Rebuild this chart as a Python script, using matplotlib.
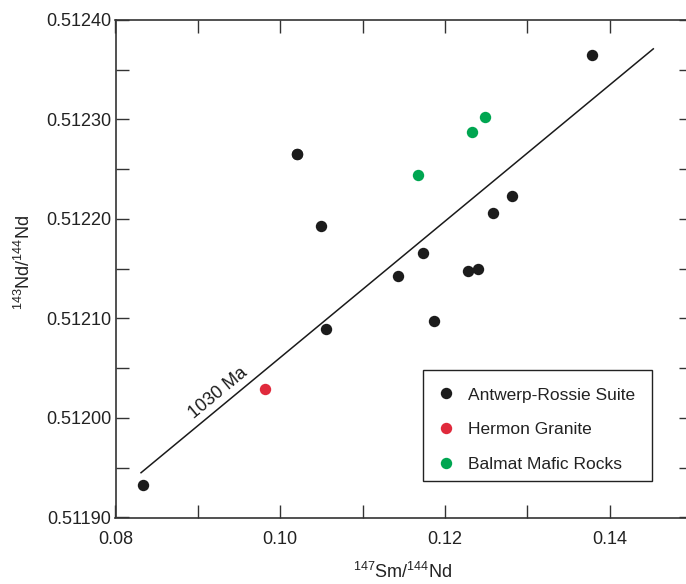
import matplotlib
matplotlib.use("Agg")
import matplotlib.pyplot as plt
from matplotlib.ticker import MultipleLocator, FormatStrFormatter
from matplotlib.lines import Line2D
from matplotlib.patches import Rectangle

plt.rcParams['font.family'] = ['Liberation Sans', 'DejaVu Sans']
plt.rcParams['mathtext.fontset'] = 'custom'
plt.rcParams['mathtext.rm'] = 'Liberation Sans'
plt.rcParams['mathtext.it'] = 'Liberation Sans'

# Data
ar_x = [0.0833, 0.1020, 0.1020, 0.1050, 0.1055, 0.1143, 0.1173, 0.1187,
        0.1228, 0.1240, 0.1258, 0.1281, 0.1378]
ar_y = [0.511933, 0.512265, 0.512265, 0.512193, 0.512089, 0.512143, 0.512166,
        0.512097, 0.512148, 0.512150, 0.512206, 0.512223, 0.512365]
hg_x = [0.0981]
hg_y = [0.512029]
bm_x = [0.1167, 0.1233, 0.1249]
bm_y = [0.512244, 0.512287, 0.512303]
iso_x = [0.0831, 0.1453]
iso_y = [0.511945, 0.512371]
iso_label = "1030 Ma"
series_names = ["Antwerp-Rossie Suite", "Hermon Granite", "Balmat Mafic Rocks"]
colors = ["#1c1c1c", "#e02a3c", "#00a651"]

W, H = 686, 584
fig = plt.figure(figsize=(W / 100, H / 100), dpi=100)
ax = fig.add_axes([115.5 / W, (H - 517.5) / H, (692 - 115.5) / W, (517.5 - 20) / H])

ax.plot(iso_x, iso_y, color="#1a1a1a", lw=1.1, zorder=2)
ms = 8.2
ax.plot(ar_x, ar_y, 'o', color=colors[0], ms=ms, mec='none', zorder=3)
ax.plot(hg_x, hg_y, 'o', color=colors[1], ms=ms, mec='none', zorder=3)
ax.plot(bm_x, bm_y, 'o', color=colors[2], ms=ms, mec='none', zorder=3)

ax.text(0.09244, 0.512025, iso_label, rotation=39.6, rotation_mode='anchor',
        ha='center', va='center', fontsize=13, color="#1a1a1a")

ax.set_xlim(0.08, 0.15)
ax.set_ylim(0.51190, 0.51240)
ax.xaxis.set_major_locator(MultipleLocator(0.02))
ax.xaxis.set_minor_locator(MultipleLocator(0.01))
ax.yaxis.set_major_locator(MultipleLocator(0.0001))
ax.yaxis.set_minor_locator(MultipleLocator(0.00005))
ax.xaxis.set_major_formatter(FormatStrFormatter('%.2f'))
ax.yaxis.set_major_formatter(FormatStrFormatter('%.5f'))

ax.tick_params(which='both', direction='in', top=True, right=True,
               length=9.5, width=1.0, color="#333333", labelsize=13,
               labelcolor="#222222")
ax.tick_params(axis='x', pad=10)
ax.tick_params(axis='y', pad=3)
for s in ax.spines.values():
    s.set_linewidth(1.2)
    s.set_color("#333333")
ax.spines['right'].set_visible(False)

ax.set_xlabel(r'$^{147}$Sm/$^{144}$Nd', fontsize=13, color="#222222")
ax.set_ylabel(r'$^{143}$Nd/$^{144}$Nd', fontsize=13, color="#222222")
ax.xaxis.set_label_coords((403 - 115.5) / (692 - 115.5), -(572 - 517.5) / 497.5)
ax.yaxis.set_label_coords(-(115.5 - 24) / (692 - 115.5), (517.5 - 262) / 497.5)
ax.xaxis.label.set_va('center')
ax.yaxis.label.set_va('center')

handles = [Line2D([], [], ls='none', marker='o', ms=ms, color=c, mec='none') for c in colors]
leg = fig.legend(handles, series_names, loc='upper left',
                 bbox_to_anchor=(423.3 / W, 1 - 370 / H), bbox_transform=fig.transFigure,
                 fontsize=12.5, frameon=False, borderaxespad=0,
                 handlelength=0.6, handletextpad=0.97, labelspacing=1.12,
                 borderpad=1.0)
for t in leg.get_texts():
    t.set_color("#222222")

# legend frame
fig.patches.append(Rectangle((423.3 / W, 1 - 480.7 / H), (651.7 - 423.3) / W, (480.7 - 370) / H,
                             transform=fig.transFigure, fill=False, edgecolor="#222222",
                             linewidth=1.0, zorder=5))

fig.savefig("out.png", dpi=100)
